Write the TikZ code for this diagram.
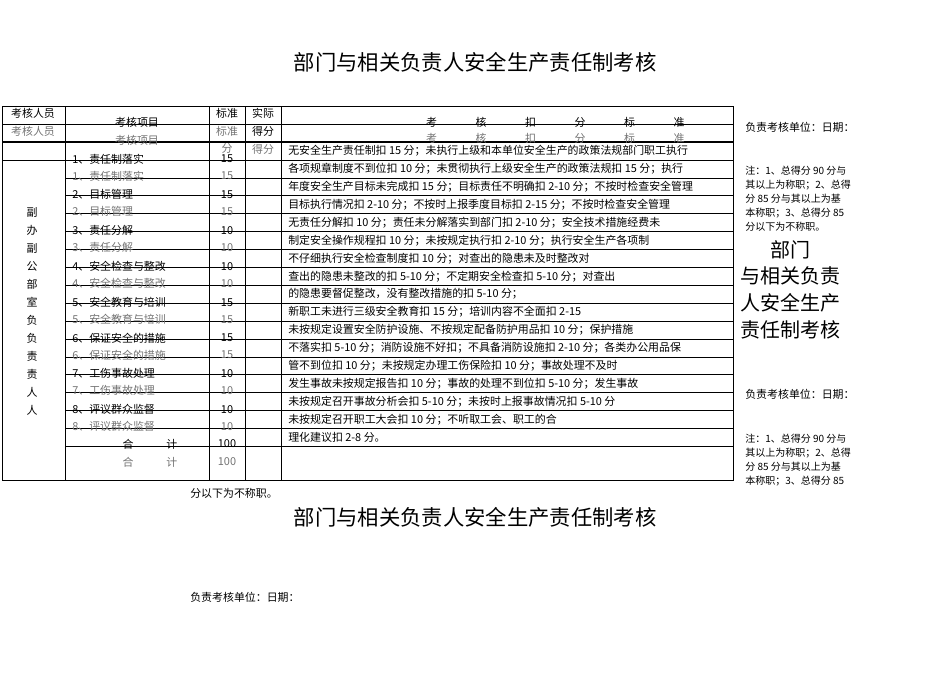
\documentclass[tikz,border=0pt]{standalone}
\usepackage{fontspec}
\setmainfont{Noto Sans CJK SC}
\begin{document}
\begin{tikzpicture}[x=0.75pt,y=-0.75pt,
  txt/.style={inner sep=0pt,font=\fontsize{8.2}{9}\selectfont},
  gtxt/.style={txt,text=black!55},
  ltxt/.style={txt,anchor=west},
  lg/.style={gtxt,anchor=west},
  grid/.style={line width=0.5pt}]
\useasboundingbox (0,0) rectangle (950,672);
% titles
\node[txt,font=\fontsize{16}{18}\selectfont] (t1) at (475,62) {部门与相关负责人安全生产责任制考核};
\node[txt,font=\fontsize{16}{18}\selectfont] (t2) at (475,517) {部门与相关负责人安全生产责任制考核};
\node[ltxt] (u3) at (190,597) {负责考核单位：日期：};
\node[ltxt] (n3) at (190,493) {分以下为不称职。};
% table frame
\draw[grid] (2,106) rectangle (733,480);
\foreach \x in {65,209,245,281} \draw[grid] (\x,106) -- (\x,480);
\draw[line width=1pt] (2,142) -- (733,142);
\draw[grid] (2,124) -- (65,124);
\draw[grid] (2,160) -- (65,160);
\foreach \i in {0,...,16} \draw[grid] (65,{160+17.9*\i}) -- (733,{160+17.9*\i});
\draw[grid] (65,124) -- (733,124);
% header
\node[txt] (h1) at (33,113) {考核人员};
\node[gtxt] (h1g) at (33,131) {考核人员};
\node[txt] (h2) at (137,122) {考核项目};
\node[gtxt] (h2g) at (137,140) {考核项目};
\node[txt] (h3) at (227,113) {标准};
\node[gtxt] (h3g) at (227,131) {标准};
\node[gtxt] (h3h) at (227,148) {分};
\node[txt] (h4) at (263,113) {实际};
\node[txt] (h4g) at (263,131) {得分};
\node[gtxt] (h4h) at (263,149) {得分};
\foreach \c [count=\k] in {考,核,扣,分,标,准}{
  \node[txt] at ({382+49.5*\k},122) {\c};
  \node[gtxt] at ({382+49.5*\k},138) {\c};}
% vertical label
\foreach \c [count=\k] in {副,办,副,公,部,室,负,负,责,责,人,人}
  \node[txt] at (32,{194+18*\k}) {\c};
% items
\foreach \t/\s [count=\k from 0] in {1、责任制落实/15,2、目标管理/15,3、责任分解/10,4、安全检查与整改/10,5、安全教育与培训/15,6、保证安全的措施/15,7、工伤事故处理/10,8、评议群众监督/10}{
  \node[ltxt] at (72,{159+35.8*\k}) {\t};
  \node[lg] at (72,{176+35.8*\k}) {\t};
  \node[txt] at (227,{159+35.8*\k}) {\s};
  \node[gtxt] at (227,{176+35.8*\k}) {\s};}
\node[txt] (hj) at (150,444) {合\hspace{3em}计};
\node[gtxt] (hjg) at (150,462) {合\hspace{3em}计};
\node[txt] (s1) at (227,444) {100};
\node[gtxt] (s2) at (227,462) {100};
% criteria
\foreach \t [count=\k from 0] in {
无安全生产责任制扣 15 分；未执行上级和本单位安全生产的政策法规部门职工执行,
各项规章制度不到位扣 10 分；未贯彻执行上级安全生产的政策法规扣 15 分；执行,
年度安全生产目标未完成扣 15 分；目标责任不明确扣 2-10 分；不按时检查安全管理,
目标执行情况扣 2-10 分；不按时上报季度目标扣 2-15 分；不按时检查安全管理,
无责任分解扣 10 分；责任未分解落实到部门扣 2-10 分；安全技术措施经费未,
制定安全操作规程扣 10 分；未按规定执行扣 2-10 分；执行安全生产各项制,
不仔细执行安全检查制度扣 10 分；对查出的隐患未及时整改对,
查出的隐患未整改的扣 5-10 分；不定期安全检查扣 5-10 分；对查出,
的隐患要督促整改，没有整改措施的扣 5-10 分；,
新职工未进行三级安全教育扣 15 分；培训内容不全面扣 2-15,
未按规定设置安全防护设施、不按规定配备防护用品扣 10 分；保护措施,
不落实扣 5-10 分；消防设施不好扣；不具备消防设施扣 2-10 分；各类办公用品保,
管不到位扣 10 分；未按规定办理工伤保险扣 10 分；事故处理不及时,
发生事故未按规定报告扣 10 分；事故的处理不到位扣 5-10 分；发生事故,
未按规定召开事故分析会扣 5-10 分；未按时上报事故情况扣 5-10 分,
未按规定召开职工大会扣 10 分；不听取工会、职工的合,
理化建议扣 2-8 分。}
  \node[ltxt] at (288,{151+17.9*\k}) {\t};
% right notes
\node[ltxt] (u1) at (745,127) {负责考核单位：日期：};
\node[txt,anchor=north west,align=left,font=\fontsize{7.5}{10.5}\selectfont] (n1) at (745,166) {注：1、总得分 90 分与\\其以上为称职；2、总得\\分 85 分与其以上为基\\本称职；3、总得分 85\\分以下为不称职。};
\node[txt,anchor=north,align=center,font=\fontsize{15}{20}\selectfont] (big) at (790,240) {部门\\与相关负责\\人安全生产\\责任制考核};
\node[ltxt] (u2) at (745,394) {负责考核单位：日期：};
\node[txt,anchor=north west,align=left,font=\fontsize{7.5}{10.5}\selectfont] (n2) at (745,434) {注：1、总得分 90 分与\\其以上为称职；2、总得\\分 85 分与其以上为基\\本称职；3、总得分 85};
\end{tikzpicture}
\end{document}
